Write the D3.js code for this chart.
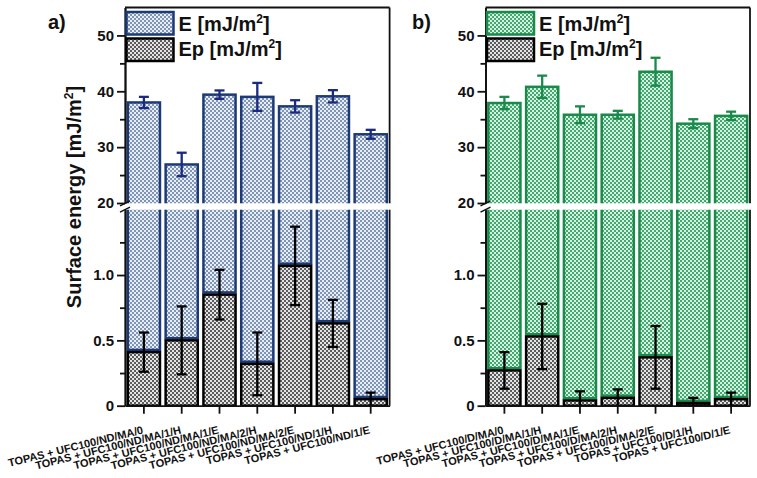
<!DOCTYPE html>
<html><head><meta charset="utf-8">
<script src="https://cdn.jsdelivr.net/npm/d3@7"></script>
<style>body{margin:0;background:#fff}svg{display:block}text{font-family:"Liberation Sans",Arial,sans-serif;font-weight:bold;fill:#111}</style>
</head><body><svg id="c" width="757" height="478"></svg>
<script>
const categoriesA = ["TOPAS + UFC100/ND/MA/0","TOPAS + UFC100/ND/MA/1/H","TOPAS + UFC100/ND/MA/1/E","TOPAS + UFC100/ND/MA/2/H","TOPAS + UFC100/ND/MA/2/E","TOPAS + UFC100/ND/1/H","TOPAS + UFC100/ND/1/E"];
const categoriesB = ["TOPAS + UFC100/D/MA/0","TOPAS + UFC100/D/MA/1/H","TOPAS + UFC100/D/MA/1/E","TOPAS + UFC100/D/MA/2/H","TOPAS + UFC100/D/MA/2/E","TOPAS + UFC100/D/1/H","TOPAS + UFC100/D/1/E"];
const eA = [38.0, 26.9, 39.4, 39.0, 37.3, 39.1, 32.3];
const eAErr = [1.0, 2.1, 0.75, 2.5, 1.1, 1.1, 0.8];
const epA = [0.41, 0.50, 0.85, 0.32, 1.07, 0.63, 0.05];
const epAErr = [0.15, 0.26, 0.19, 0.24, 0.30, 0.18, 0.05];
const eB = [37.9, 40.8, 35.8, 35.8, 43.5, 34.2, 35.6];
const eBErr = [1.1, 2.0, 1.5, 0.7, 2.5, 0.8, 0.75];
const epB = [0.27, 0.53, 0.04, 0.06, 0.37, 0.02, 0.05];
const epBErr = [0.14, 0.25, 0.07, 0.065, 0.24, 0.04, 0.05];
const upperTicks = [20, 30, 40, 50];
const upperMinor = [25, 35, 45];
const lowerTicks = [0, 0.5, 1.0];
const lowerTickLabels = ["0", "0.5", "1.0"];
const lowerMinor = [0.25, 0.75, 1.25];
const legendE = "E [mJ/m";
const legendEp = "Ep [mJ/m";
const yTitle = "Surface energy [mJ/m";
const panelLabels = ["a)", "b)"];

const svg = d3.select("#c");
const defs = svg.append("defs");
function pat(id, light, dark){
  const p = defs.append("pattern").attr("id", id).attr("width", 4).attr("height", 4).attr("patternUnits", "userSpaceOnUse");
  p.append("rect").attr("width", 4).attr("height", 4).attr("fill", light);
  p.append("rect").attr("width", 2).attr("height", 2).attr("fill", dark);
  p.append("rect").attr("x", 2).attr("y", 2).attr("width", 2).attr("height", 2).attr("fill", dark);
}
pat("pA", "#e8eef6", "#7f95b3");
pat("pB", "#d4f2df", "#45a872");
pat("pP", "#e4e4e4", "#5c5c5c");

const upper = d3.scaleLinear().domain([20, 55]).range([203, 7.5]);
const lower = d3.scaleLinear().domain([0, 1.5]).range([405.7, 209.7]);
const breakTop = 203.3, breakBot = 209.7;

const panels = [
  {x0: 125, x1: 389.6, cats: categoriesA, e: eA, eErr: eAErr, ep: epA, epErr: epAErr, fill: "url(#pA)", stroke: "#1d3a78", errC: "#1a2a80", label: panelLabels[0], lx: 48},
  {x0: 485.5, x1: 750, cats: categoriesB, e: eB, eErr: eBErr, ep: epB, epErr: epBErr, fill: "url(#pB)", stroke: "#1a8a4a", errC: "#1a8a4a", label: panelLabels[1], lx: 412}
];

panels.forEach(P => {
  const g = svg.append("g");
  const x = d3.scaleBand().domain(P.cats).range([P.x0, P.x1]).paddingInner(0.15).paddingOuter(0.075);
  const bw = x.bandwidth();
  const idx = d3.range(P.cats.length);
  // E bars upper part
  g.selectAll(".eu").data(idx).join("rect")
    .attr("x", i => x(P.cats[i])).attr("width", bw)
    .attr("y", i => upper(P.e[i])).attr("height", i => breakTop + 4 - upper(P.e[i]))
    .attr("fill", P.fill).attr("stroke", P.stroke).attr("stroke-width", 2.5);
  // E bars lower part (above Ep)
  g.selectAll(".el").data(idx).join("rect")
    .attr("x", i => x(P.cats[i])).attr("width", bw)
    .attr("y", breakBot - 4).attr("height", i => lower(P.ep[i]) - 2.2 - (breakBot - 4))
    .attr("fill", P.fill).attr("stroke", P.stroke).attr("stroke-width", 2.5);
  // Ep bars
  g.selectAll(".ep").data(idx).join("rect")
    .attr("x", i => x(P.cats[i])).attr("width", bw)
    .attr("y", i => lower(P.ep[i])).attr("height", i => lower(0) - lower(P.ep[i]))
    .attr("fill", "url(#pP)").attr("stroke", "#000").attr("stroke-width", 2.5);
  // white break band
  g.append("rect").attr("x", P.x0 + 1).attr("y", breakTop).attr("width", P.x1 - P.x0 + 3).attr("height", breakBot - breakTop).attr("fill", "#fff");

  // error bars
  const cap = 5;
  function errs(vals, err, sc, color, cls, floor){
    const eg = g.selectAll("." + cls).data(idx).join("g").attr("class", cls).attr("stroke", color).attr("stroke-width", 2.3);
    eg.append("line").attr("x1", i => x(P.cats[i]) + bw/2).attr("x2", i => x(P.cats[i]) + bw/2)
      .attr("y1", i => sc(vals[i] + err[i])).attr("y2", i => sc(Math.max(floor, vals[i] - err[i])));
    eg.append("line").attr("x1", i => x(P.cats[i]) + bw/2 - cap).attr("x2", i => x(P.cats[i]) + bw/2 + cap)
      .attr("y1", i => sc(vals[i] + err[i])).attr("y2", i => sc(vals[i] + err[i]));
    eg.filter(i => vals[i] - err[i] > floor).append("line").attr("x1", i => x(P.cats[i]) + bw/2 - cap).attr("x2", i => x(P.cats[i]) + bw/2 + cap)
      .attr("y1", i => sc(vals[i] - err[i])).attr("y2", i => sc(vals[i] - err[i]));
  }
  errs(P.e, P.eErr, upper, P.errC, "ee", 20);
  errs(P.ep, P.epErr, lower, "#000", "pe", 0);

  // axes
  const axStyle = sel => { sel.selectAll("path,line").attr("stroke", "#111").attr("stroke-width", 1.8); sel.selectAll("text").attr("font-size", 15).attr("font-family", "Liberation Sans, Arial, sans-serif").attr("font-weight", "bold").attr("fill", "#111"); };
  g.append("g").attr("transform", `translate(${P.x0},0)`).call(d3.axisLeft(upper).tickValues(upperTicks).tickSize(8).tickSizeOuter(0).tickPadding(3).tickFormat(d3.format("d"))).call(axStyle);
  g.append("g").attr("transform", `translate(${P.x0},0)`).call(d3.axisLeft(upper).tickValues(upperMinor).tickSize(5).tickSizeOuter(0).tickFormat("")).call(axStyle);
  g.append("g").attr("transform", `translate(${P.x0},0)`).call(d3.axisLeft(lower).tickValues(lowerTicks).tickSize(8).tickSizeOuter(0).tickPadding(3).tickFormat((d, i) => lowerTickLabels[i])).call(axStyle);
  g.append("g").attr("transform", `translate(${P.x0},0)`).call(d3.axisLeft(lower).tickValues(lowerMinor).tickSize(5).tickSizeOuter(0).tickFormat("")).call(axStyle);
  const xa = g.append("g").attr("transform", `translate(0,${lower(0)})`).call(d3.axisBottom(x).tickSize(8).tickSizeOuter(0).tickFormat("")).call(axStyle);
  // x labels rotated
  g.selectAll(".xl").data(P.cats).join("text")
    .attr("transform", d => `translate(${x(d) + bw/2 - 2},${lower(0) + 20}) rotate(-14)`)
    .attr("text-anchor", "end").attr("dy", "0.71em").attr("font-size", 11).text(d => d);
  // frame: top and right
  g.append("line").attr("x1", P.x0).attr("x2", P.x1).attr("y1", upper(55)).attr("y2", upper(55)).attr("stroke", "#111").attr("stroke-width", 1.8);
  g.append("line").attr("x1", P.x1).attr("x2", P.x1).attr("y1", upper(55)).attr("y2", breakTop).attr("stroke", "#111").attr("stroke-width", 1.8);
  g.append("line").attr("x1", P.x1).attr("x2", P.x1).attr("y1", breakBot).attr("y2", lower(0)).attr("stroke", "#111").attr("stroke-width", 1.8);
  // break marks
  [breakTop, breakBot].forEach(yb => {
    g.append("line").attr("x1", P.x0 - 5).attr("y1", yb + 2.5).attr("x2", P.x0 + 5).attr("y2", yb - 2.5).attr("stroke", "#111").attr("stroke-width", 1.3);
  });
  // legend
  const lg = g.append("g");
  const lx = P.x0 + 1.5;
  [[12, P.fill, P.stroke, legendE, 31], [38.5, "url(#pP)", "#000", legendEp, 56]].forEach(([yy, f, s, t, by]) => {
    lg.append("rect").attr("x", lx).attr("y", yy).attr("width", 47).attr("height", 22.5).attr("fill", f).attr("stroke", s).attr("stroke-width", 2.5);
    const tx = lg.append("text").attr("x", lx + 52).attr("y", by).attr("font-size", 20);
    tx.append("tspan").text(t);
    tx.append("tspan").attr("dy", -8).attr("font-size", 12).text("2");
    tx.append("tspan").attr("dy", 8).text("]");
  });
  svg.append("text").attr("x", P.lx).attr("y", 29).attr("font-size", 20).text(P.label);
});

const yt = svg.append("text").attr("transform", `translate(81,197) rotate(-90)`).attr("text-anchor", "middle").attr("font-size", 20);
yt.append("tspan").text(yTitle);
yt.append("tspan").attr("dy", -8).attr("font-size", 12).text("2");
yt.append("tspan").attr("dy", 8).text("]");
</script></body></html>
